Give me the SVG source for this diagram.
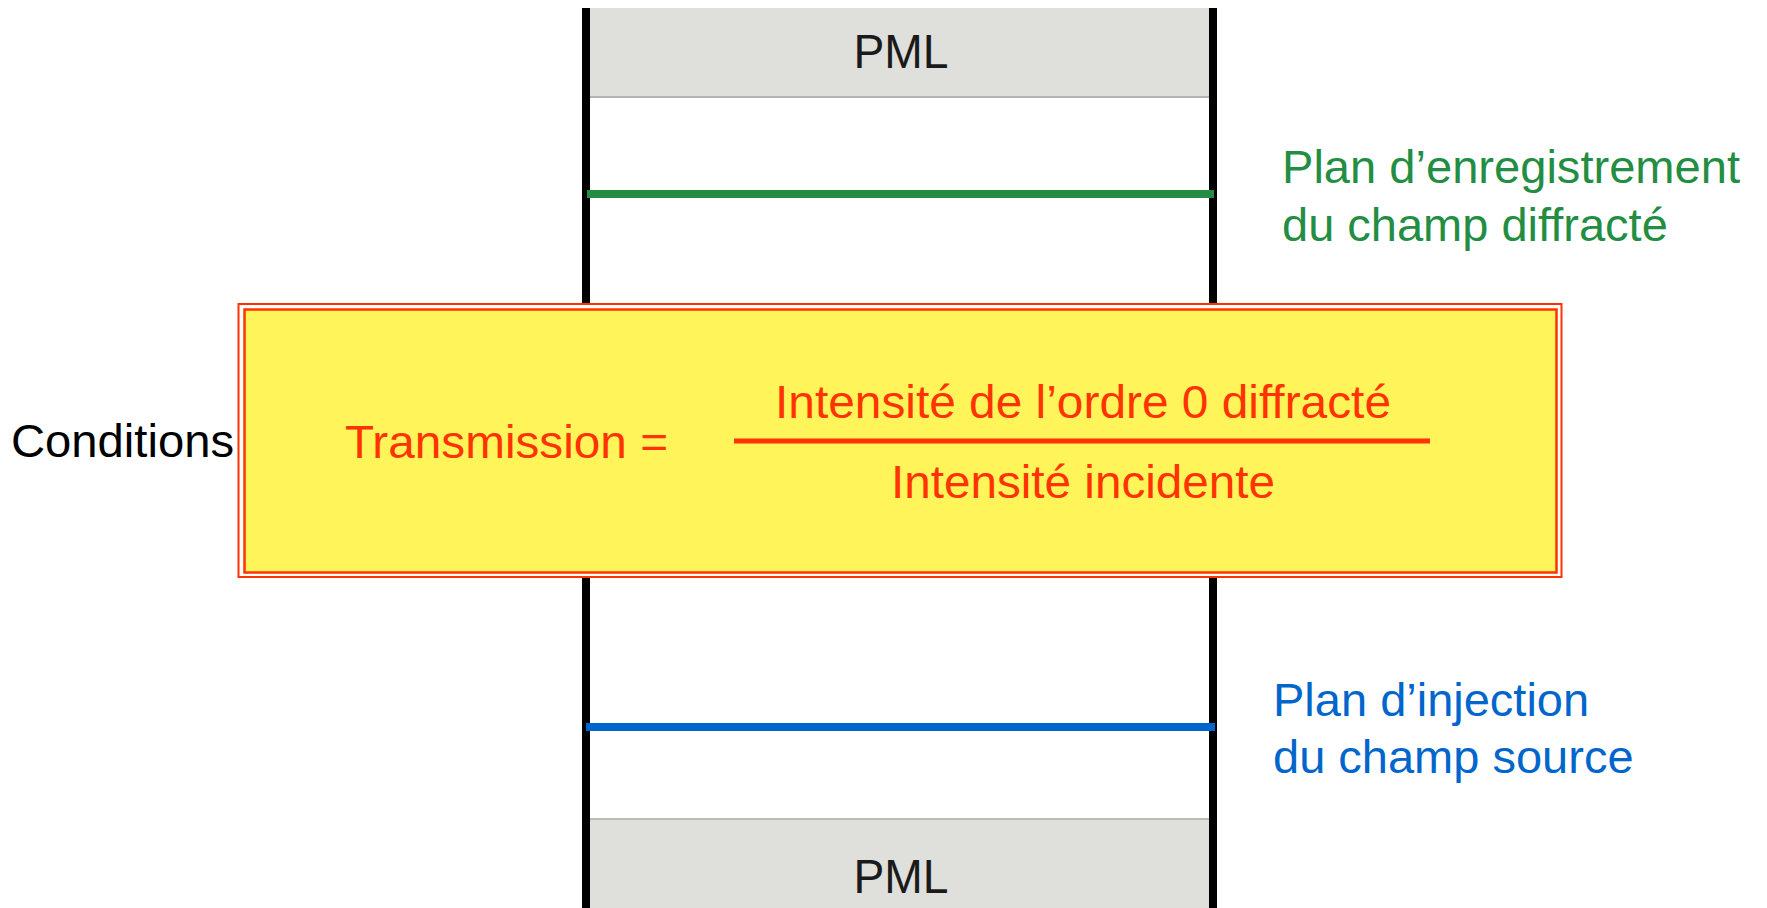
<svg xmlns="http://www.w3.org/2000/svg" width="1767" height="908" viewBox="0 0 1767 908">
<style>
text{font-family:"Liberation Sans",Arial,sans-serif}
.pml{fill:#dfdfdb}
.pmlt{font-size:48px;fill:#1a1a1a;text-anchor:middle}
.wall{stroke:#000;stroke-width:8}
.red{fill:#ff3300;font-size:47px}
.green{fill:#238e43;font-size:47px}
.blue{fill:#0066cc;font-size:47px}
</style>
<g id="pml-top">
<rect class="pml" x="586" y="8" width="627" height="89"/>
<line x1="586" y1="97" x2="1213" y2="97" stroke="#b3b3b3" stroke-width="2"/>
<text class="pmlt" x="901" y="68" textLength="95" lengthAdjust="spacingAndGlyphs">PML</text>
</g>
<g id="pml-bottom">
<rect class="pml" x="586" y="819" width="627" height="89"/>
<line x1="586" y1="819" x2="1213" y2="819" stroke="#bdbdbd" stroke-width="2"/>
<text class="pmlt" x="901" y="893" textLength="95" lengthAdjust="spacingAndGlyphs">PML</text>
</g>
<g id="walls">
<line class="wall" x1="586" y1="8" x2="586" y2="908"/>
<line class="wall" x1="1213" y1="8" x2="1213" y2="908"/>
</g>
<g id="plan-enregistrement">
<line x1="587" y1="194" x2="1214" y2="194" stroke="#238e43" stroke-width="8"/>
<text class="green" x="1282" y="183" textLength="458" lengthAdjust="spacingAndGlyphs">Plan d’enregistrement</text>
<text class="green" x="1282" y="241">du champ diffracté</text>
</g>
<g id="plan-injection">
<line x1="586" y1="727" x2="1215" y2="727" stroke="#0066cc" stroke-width="8"/>
<text class="blue" x="1273" y="716">Plan d’injection</text>
<text class="blue" x="1273" y="773">du champ source</text>
</g>
<g id="conditions">
<text x="11" y="457" font-size="46" fill="#000" textLength="223" lengthAdjust="spacingAndGlyphs">Conditions</text>
</g>
<g id="transmission-box">
<rect x="238.5" y="304" width="1323" height="273" fill="#fff" stroke="#ff3300" stroke-width="2"/>
<rect x="244.5" y="309.5" width="1312" height="263" fill="#fff459" stroke="#ff3300" stroke-width="2.5"/>
<text class="red" x="345" y="458" textLength="323" lengthAdjust="spacingAndGlyphs">Transmission =</text>
<text class="red" x="775" y="418" textLength="616" lengthAdjust="spacingAndGlyphs">Intensité de l’ordre 0 diffracté</text>
<line x1="734" y1="441" x2="1430" y2="441" stroke="#ff3300" stroke-width="5"/>
<text class="red" x="891" y="498" textLength="384" lengthAdjust="spacingAndGlyphs">Intensité incidente</text>
</g>
</svg>
